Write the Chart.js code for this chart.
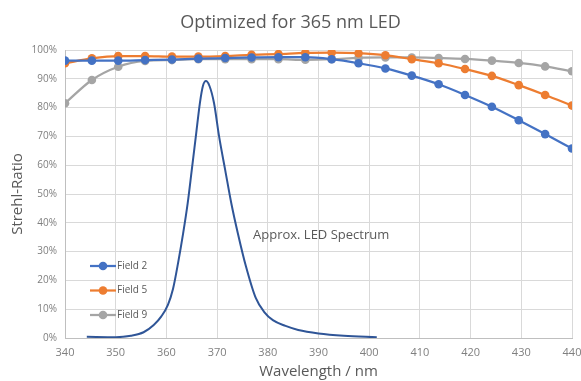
<!DOCTYPE html>
<html>
<head>
<meta charset="utf-8">
<script src="https://cdn.jsdelivr.net/npm/chart.js@4/dist/chart.umd.min.js"></script>
<style>
  html, body { margin: 0; padding: 0; background: #fff; }
  #wrap { width: 581px; height: 381px; position: relative; }
</style>
</head>
<body>
<div id="wrap"><canvas id="chart"></canvas></div>
<script>
// wavelengths of the Strehl samples (nm)
var wavelengths = [340, 345.3, 350.5, 355.8, 361.1, 366.3, 371.6, 376.8, 382.1, 387.4,
                   392.6, 397.9, 403.2, 408.4, 413.7, 418.9, 424.2, 429.5, 434.7, 440];
// Strehl ratio in %
var field2 = [96.3, 96.3, 96.3, 96.5, 96.7, 97.0, 97.2, 97.4, 97.5, 97.5,
              96.8, 95.4, 93.6, 91.1, 88.1, 84.4, 80.3, 75.6, 70.8, 65.8];
var field5 = [95.4, 97.1, 97.9, 97.9, 97.7, 97.7, 97.9, 98.3, 98.6, 99.0,
              99.1, 98.9, 98.2, 96.8, 95.4, 93.4, 91.0, 87.8, 84.4, 80.7];
var field9 = [81.5, 89.6, 94.2, 96.2, 96.5, 96.8, 96.8, 96.8, 96.8, 96.6,
              96.8, 97.3, 97.4, 97.4, 97.2, 96.9, 96.3, 95.5, 94.3, 92.6];

// approximate LED spectrum, scaled onto the same axis
var ledWavelengths = [344.3, 350, 353, 355.5, 357.5, 359, 360.3, 361.3, 362.3, 363.3,
                      364.2, 365.0, 365.8, 366.6, 367.2, 367.8, 368.5, 369.4, 370.4, 371.6,
                      372.8, 374.1, 375.7, 377.6, 379.3, 381, 383.5, 386, 390, 395, 401.5];
var ledSpectrum = [0.4, 0.3, 0.8, 2.0, 4.5, 7.5, 11.5, 17, 26, 36.3,
                   46.8, 58.3, 69.9, 81.5, 87.5, 89.2, 87.5, 81.5, 69.9, 58.3,
                   46.8, 36.3, 24.8, 14, 9, 6.2, 4.2, 2.8, 1.6, 0.8, 0.3];

var seriesNames = ["Field 2", "Field 5", "Field 9"];
var seriesColors = ["#4472C4", "#ED7D31", "#A5A5A5"];

function toPoints(xs, ys) {
  return xs.map(function (x, i) { return { x: x, y: ys[i] }; });
}

Chart.defaults.font.family = "'Open Sans', 'DejaVu Sans', sans-serif";
Chart.defaults.color = "#7F7F7F";

// legend inside the plot + spectrum label
var overlay = {
  id: "overlay",
  afterDatasetsDraw: function (chart) {
    var ctx = chart.ctx;
    var area = chart.chartArea;
    ctx.save();
    ctx.font = "10px 'Open Sans', sans-serif";
    ctx.textBaseline = "middle";
    ctx.textAlign = "left";
    for (var i = 0; i < seriesNames.length; i++) {
      var y = area.top + 216 + i * 24.5;
      var x0 = area.left + 25;
      ctx.strokeStyle = seriesColors[i];
      ctx.lineWidth = 2.25;
      ctx.beginPath();
      ctx.moveTo(x0, y);
      ctx.lineTo(x0 + 26, y);
      ctx.stroke();
      ctx.fillStyle = seriesColors[i];
      ctx.beginPath();
      ctx.arc(x0 + 13, y, 4.3, 0, Math.PI * 2);
      ctx.fill();
      ctx.fillStyle = "#595959";
      ctx.fillText(seriesNames[i], x0 + 27, y);
    }
    ctx.font = "13px 'Open Sans', sans-serif";
    ctx.fillStyle = "#595959";
    ctx.fillText("Approx. LED Spectrum", area.left + 188, area.top + 185);
    ctx.restore();
  }
};

var datasets = seriesNames.map(function (name, i) {
  return {
    label: name,
    data: toPoints(wavelengths, [field2, field5, field9][i]),
    borderColor: seriesColors[i],
    backgroundColor: seriesColors[i],
    borderWidth: 2.25,
    pointRadius: 4.3,
    pointBorderWidth: 0,
    tension: 0.3,
    cubicInterpolationMode: "monotone"
  };
});
datasets.unshift({
  label: "Approx. LED Spectrum",
  data: toPoints(ledWavelengths, ledSpectrum),
  borderColor: "#2F5597",
  borderWidth: 2,
  pointRadius: 0,
  cubicInterpolationMode: "monotone"
});

new Chart(document.getElementById("chart"), {
  type: "line",
  data: { datasets: datasets },
  plugins: [overlay],
  options: {
    responsive: true,
    maintainAspectRatio: false,
    animation: false,
    layout: { padding: { top: 0, right: 0, left: 0, bottom: 0 } },
    plugins: {
      legend: { display: false },
      tooltip: { enabled: false },
      title: {
        display: true,
        text: "Optimized for 365 nm LED",
        color: "#595959",
        font: { size: 18, weight: "normal" },
        padding: { top: 12, bottom: 16.4 }
      }
    },
    scales: {
      x: {
        type: "linear",
        min: 340,
        max: 440,
        ticks: { stepSize: 10, padding: 8, font: { size: 11 }, color: "#7F7F7F", maxRotation: 0 },
        grid: { color: "#D9D9D9", drawTicks: false },
        border: { color: "#BFBFBF" },
        title: {
          display: true,
          text: "Wavelength / nm",
          color: "#595959",
          font: { size: 15 },
          padding: { top: 4, bottom: 0 }
        },
        afterFit: function (scale) {
          scale.height = 43;
          scale.paddingRight = 9;
        }
      },
      y: {
        min: 0,
        max: 100,
        ticks: {
          stepSize: 10,
          padding: 8,
          font: { size: 10 },
          color: "#7F7F7F",
          callback: function (v) { return v + "%"; }
        },
        grid: { color: "#D9D9D9", drawTicks: false },
        border: { color: "#BFBFBF" },
        title: {
          display: true,
          text: "Strehl-Ratio",
          color: "#595959",
          font: { size: 15 },
          padding: { top: 9, bottom: 0 }
        },
        afterFit: function (scale) { scale.width = 65; }
      }
    }
  }
});
</script>
</body>
</html>
